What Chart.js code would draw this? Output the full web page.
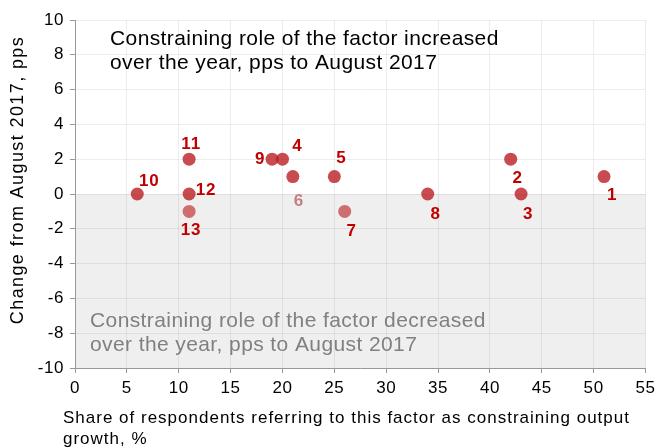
<!DOCTYPE html>
<html><head><meta charset="utf-8">
<script src="https://cdn.jsdelivr.net/npm/chart.js@4.4.0/dist/chart.umd.min.js"></script>
<style>html,body{margin:0;padding:0;background:#fff}#wrap{width:660px;height:448px;position:relative}</style>
</head><body><div id="wrap"><canvas id="c" width="660" height="448"></canvas></div>
<script>
// ---- data ----
const factorIds = ['1','2','3','4','5','6','7','8','9','10','11','12','13'];
const shareOfRespondents = [51, 42, 43, 20, 25, 21, 26, 34, 19, 6, 11, 11, 11];
const changeFromAug2017 = [1, 2, 0, 2, 1, 1, -1, 0, 2, 0, 2, 0, -1];
const xAxisTitle = ['Share of respondents referring to this factor as constraining output', 'growth, %'];
const yAxisTitle = 'Change from August 2017, pps';
const noteIncreased = ['Constraining role of the factor increased', 'over the year, pps to August 2017'];
const noteDecreased = ['Constraining role of the factor decreased', 'over the year, pps to August 2017'];

// ---- styling (label placement offsets in px relative to each point) ----
const labelOffsets = [[8,19],[7,19],[7,20],[15,-13],[7,-18],[6,25],[7,20],[8,20],[-12,0],[12,-13],[2,-15],[17,-4],[2,19]];
const lightPoints = new Set(['7','13']);
const greyLabels = new Set(['6']);
const FONT = '"Liberation Sans", Arial, sans-serif';

const points = shareOfRespondents.map((x, i) => ({x: x, y: changeFromAug2017[i]}));

const bandPlugin = {
  id: 'band',
  beforeDraw(chart) {
    const {ctx, chartArea, scales} = chart;
    const y0 = scales.y.getPixelForValue(0);
    const yb = scales.y.getPixelForValue(-10);
    ctx.fillStyle = '#EFEFEF';
    ctx.fillRect(chartArea.left, y0, chartArea.right - chartArea.left, yb - y0);
    ctx.letterSpacing = '0.6px';
  }
};

const textPlugin = {
  id: 'texts',
  afterDatasetsDraw(chart) {
    const {ctx} = chart;
    const meta = chart.getDatasetMeta(0);
    ctx.save();
    ctx.letterSpacing = '0.8px';
    ctx.font = 'bold 17px ' + FONT;
    ctx.textAlign = 'center';
    ctx.textBaseline = 'middle';
    meta.data.forEach((el, i) => {
      const id = factorIds[i];
      ctx.fillStyle = greyLabels.has(id) ? '#C47F80' : '#C00000';
      ctx.fillText(id, el.x + labelOffsets[i][0], el.y + labelOffsets[i][1]);
    });
    // notes
    ctx.textAlign = 'left';
    ctx.textBaseline = 'alphabetic';
    ctx.letterSpacing = '0.4px';
    ctx.font = '21px ' + FONT;
    ctx.fillStyle = '#000000';
    ctx.fillText(noteIncreased[0], 110, 45);
    ctx.fillText(noteIncreased[1], 110, 69);
    ctx.fillStyle = '#808080';
    ctx.fillText(noteDecreased[0], 90, 327);
    ctx.fillText(noteDecreased[1], 90, 351);
    // axis titles
    ctx.fillStyle = '#000000';
    ctx.font = '17px ' + FONT;
    ctx.letterSpacing = '1px';
    ctx.fillText(xAxisTitle[0], 63, 423);
    ctx.fillText(xAxisTitle[1], 63, 444);
    ctx.font = '18px ' + FONT;
    ctx.letterSpacing = '1.4px';
    ctx.translate(23, 180);
    ctx.rotate(-Math.PI / 2);
    ctx.textAlign = 'center';
    ctx.fillText(yAxisTitle, 0, 0);
    ctx.restore();
  }
};

new Chart(document.getElementById('c'), {
  type: 'scatter',
  data: {
    datasets: [{
      data: points,
      pointRadius: 6.5,
      pointHoverRadius: 6.5,
      borderWidth: 0,
      backgroundColor: factorIds.map(id => lightPoints.has(id) ? 'rgba(185,30,35,0.62)' : 'rgba(185,30,35,0.8)')
    }]
  },
  options: {
    responsive: false,
    animation: false,
    layout: {padding: {top: 20, right: 13, left: 0, bottom: 0}},
    plugins: {legend: {display: false}, tooltip: {enabled: false}},
    scales: {
      x: {
        type: 'linear', min: 0, max: 55,
        afterFit(s) { s.height = 80; },
        ticks: {stepSize: 5, color: '#000', padding: 5, font: {size: 17, family: FONT}, maxRotation: 0},
        grid: {color: 'rgba(0,0,0,0.07)', tickColor: '#999', tickLength: 5},
        border: {color: '#999', width: 1}
      },
      y: {
        type: 'linear', min: -10, max: 10,
        afterFit(s) { s.width = 75; },
        ticks: {stepSize: 2, color: '#000', padding: 6, font: {size: 17, family: FONT}},
        grid: {color: 'rgba(0,0,0,0.07)', tickColor: '#999', tickLength: 5},
        border: {color: '#999', width: 1}
      }
    }
  },
  plugins: [bandPlugin, textPlugin]
});
</script>
</body></html>
